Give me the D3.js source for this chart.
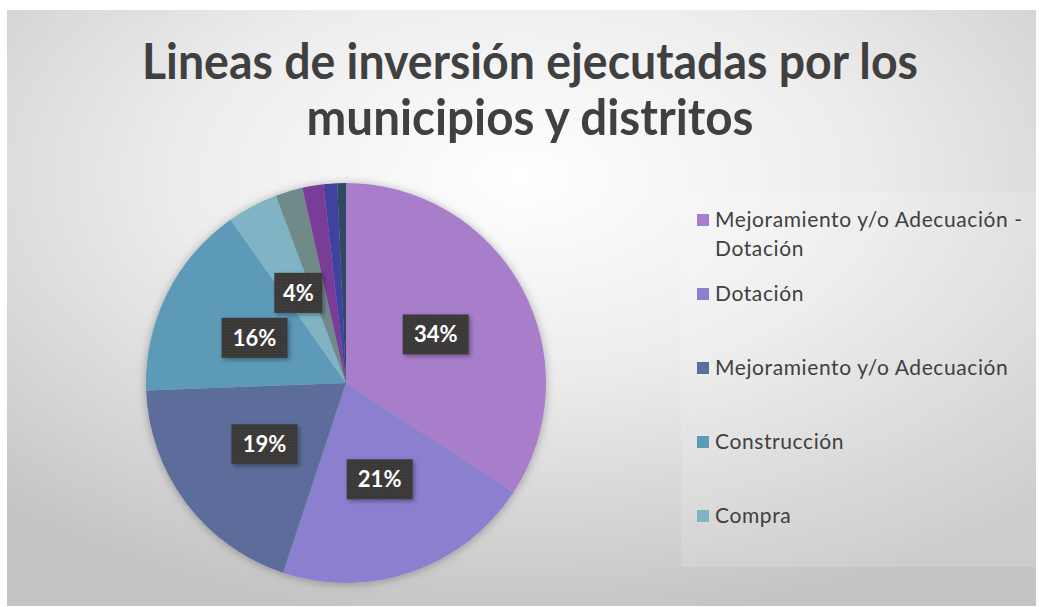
<!DOCTYPE html>
<html>
<head>
<meta charset="utf-8">
<script src="https://cdn.jsdelivr.net/npm/d3@7"></script>
<style>
  html, body { margin: 0; padding: 0; background: #ffffff; }
  svg { display: block; }
</style>
</head>
<body>
<svg id="grafico" width="1039" height="607"></svg>
<script>
// datos del grafico
var titulo = ["Lineas de inversión ejecutadas por los", "municipios y distritos"];
var categorias = ["Mejoramiento y/o Adecuación - Dotación", "Dotación", "Mejoramiento y/o Adecuación",
                  "Construcción", "Compra", "Otros 1", "Otros 2", "Otros 3", "Otros 4"];
var valores = [34.2, 20.9, 19.3, 15.8, 4.1, 2.2, 1.7, 1.1, 0.7];
var colores = ["#a87ecb", "#8a80cf", "#5b6d9c", "#5c9ab8", "#80b3c3", "#6f8a8a", "#793c97", "#3f42a0", "#2e4862"];
var leyendaVisible = 5; // el resto queda cortado en la imagen

var svg = d3.select("#grafico");
var defs = svg.append("defs");

// fondo con degradado
var grad = defs.append("radialGradient")
    .attr("id", "fondo")
    .attr("cx", "50%").attr("cy", "28%").attr("r", "75%");
grad.append("stop").attr("offset", "0").attr("stop-color", "#ffffff");
grad.append("stop").attr("offset", "0.45").attr("stop-color", "#ececec");
grad.append("stop").attr("offset", "1").attr("stop-color", "#c4c4c4");

var sombra = defs.append("filter").attr("id", "sombra")
    .attr("x", "-20%").attr("y", "-20%").attr("width", "140%").attr("height", "140%");
sombra.append("feDropShadow").attr("dx", 0).attr("dy", 1).attr("stdDeviation", 5)
    .attr("flood-color", "#000").attr("flood-opacity", 0.3);

var sombraEtq = defs.append("filter").attr("id", "sombraEtq")
    .attr("x", "-30%").attr("y", "-30%").attr("width", "160%").attr("height", "160%");
sombraEtq.append("feDropShadow").attr("dx", 2).attr("dy", 2).attr("stdDeviation", 2)
    .attr("flood-color", "#000").attr("flood-opacity", 0.35);

// textura punteada de las etiquetas
var patron = defs.append("pattern").attr("id", "puntos")
    .attr("width", 3).attr("height", 3).attr("patternUnits", "userSpaceOnUse");
patron.append("rect").attr("width", 3).attr("height", 3).attr("fill", "#3a3838");
patron.append("rect").attr("width", 1).attr("height", 1).attr("fill", "#4a4848");

svg.append("rect")
    .attr("x", 7).attr("y", 10)
    .attr("width", 1029).attr("height", 596)
    .attr("fill", "url(#fondo)");

// titulo
svg.selectAll(".titulo")
    .data(titulo)
  .enter().append("text")
    .attr("class", "titulo")
    .attr("x", 530)
    .attr("y", function(d, i) { return 79 + i * 56; })
    .attr("text-anchor", "middle")
    .attr("font-family", "Lato, 'Open Sans', sans-serif")
    .attr("font-weight", "bold")
    .attr("font-size", 49)
    .attr("fill", "#404040")
    .attr("textLength", function(d, i) { return i == 0 ? 776 : 447; })
    .attr("lengthAdjust", "spacingAndGlyphs")
    .text(function(d) { return d; });

// cuadro de leyenda
svg.append("rect")
    .attr("x", 681).attr("y", 192)
    .attr("width", 355).attr("height", 375)
    .attr("fill", "#ffffff").attr("fill-opacity", 0.15);

// pastel
var radio = 200;
var cx = 346, cy = 383;
var datos = categorias.map(function(c, i) { return {cat: c, valor: valores[i], color: colores[i]}; });
var pie = d3.pie().sort(null).value(function(d) { return d.valor; });
var arco = d3.arc().innerRadius(0).outerRadius(radio);
var arcoEtq = d3.arc().innerRadius(0).outerRadius(radio * 1.02);
var total = d3.sum(valores);
var fmt = d3.format(".0%");

var g = svg.append("g").attr("transform", "translate(" + cx + "," + cy + ")");

g.append("g").attr("filter", "url(#sombra)")
  .selectAll("path")
    .data(pie(datos))
  .enter().append("path")
    .attr("d", arco)
    .attr("fill", function(d) { return d.data.color; });

var etq = g.selectAll(".etq")
    .data(pie(datos).filter(function(d) { return d.data.valor >= 4; }))
  .enter().append("g")
    .attr("class", "etq")
    .attr("transform", function(d) { return "translate(" + arcoEtq.centroid(d) + ")"; });

etq.append("rect")
    .attr("x", function(d) { return fmt(d.data.valor / total).length > 2 ? -33 : -24; })
    .attr("y", -20)
    .attr("width", function(d) { return fmt(d.data.valor / total).length > 2 ? 66 : 48; })
    .attr("height", 40)
    .attr("fill", "url(#puntos)")
    .attr("filter", "url(#sombraEtq)");

etq.append("text")
    .attr("text-anchor", "middle")
    .attr("dy", "0.36em")
    .attr("font-family", "Lato, 'Open Sans', sans-serif")
    .attr("font-weight", "bold")
    .attr("font-size", 22)
    .attr("fill", "#ffffff")
    .text(function(d) { return fmt(d.data.valor / total); });

// leyenda
var ley = svg.selectAll(".ley")
    .data(datos.slice(0, leyendaVisible))
  .enter().append("g")
    .attr("class", "ley")
    .attr("transform", function(d, i) { return "translate(697," + (227 + i * 74) + ")"; });

ley.append("rect")
    .attr("x", 0).attr("y", -13)
    .attr("width", 12).attr("height", 12)
    .attr("fill", function(d) { return d.color; });

ley.append("text")
    .attr("x", 18)
    .attr("font-family", "Lato, 'Open Sans', sans-serif")
    .attr("font-size", 21)
    .attr("letter-spacing", 0.6)
    .attr("fill", "#404040")
    .each(function(d) {
        var partes = d.cat.indexOf(" - ") >= 0 ? [d.cat.split(" - ")[0] + " -", d.cat.split(" - ")[1]] : [d.cat];
        var t = d3.select(this);
        partes.forEach(function(p, j) {
            t.append("tspan").attr("x", 18).attr("dy", j == 0 ? 0 : 29).text(p);
        });
    });
</script>
</body>
</html>
